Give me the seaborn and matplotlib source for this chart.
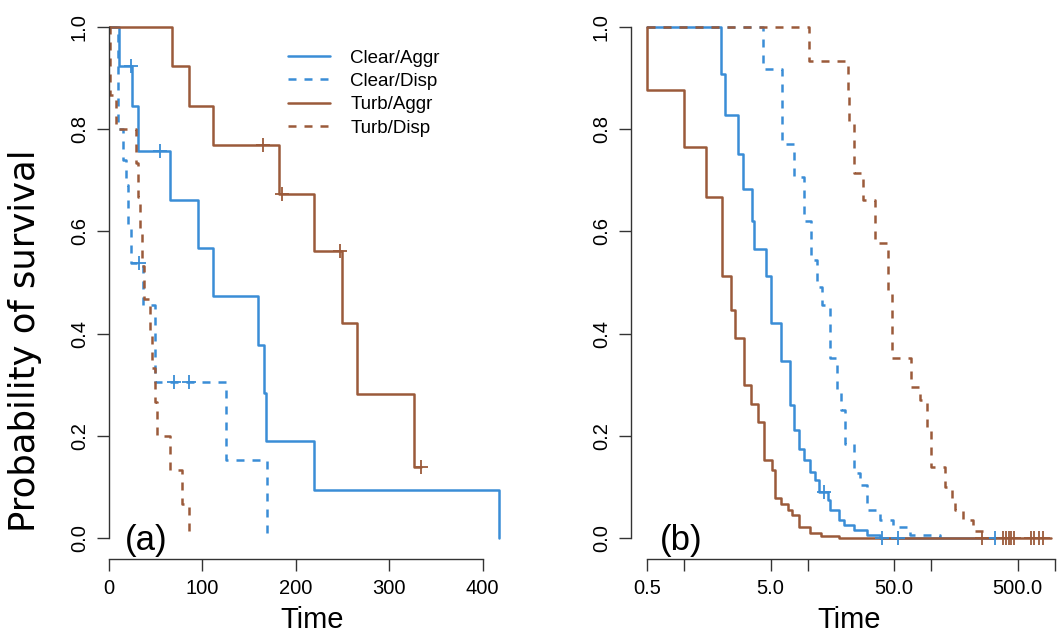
import matplotlib.pyplot as plt
import numpy as np
import pandas as pd
import seaborn as sns

groups = ["Clear/Aggr", "Clear/Disp", "Turb/Aggr", "Turb/Disp"]
colors = ["#3a8dd6", "#3a8dd6", "#9b5a3a", "#9b5a3a"]
dashed = [False, True, False, True]

# panel (a): Kaplan-Meier steps (time, survival) and censoring times
a_clear_aggr_time = [0, 10.7, 25, 31.4, 65, 95, 111.8, 159, 166, 168, 219.7, 418]
a_clear_aggr_surv = [1, 0.923, 0.846, 0.757, 0.662, 0.567, 0.473, 0.378, 0.284, 0.189, 0.095, 0.0]
a_clear_aggr_cens = [23.6, 55]

a_clear_disp_time = [0, 9.5, 15, 18, 20.5, 23.5, 36, 49, 125, 169]
a_clear_disp_surv = [1, 0.80, 0.74, 0.69, 0.615, 0.538, 0.457, 0.306, 0.153, 0.0]
a_clear_disp_cens = [32, 70, 86]

a_turb_aggr_time = [0, 67, 85.7, 111.8, 182.5, 219, 250, 266, 327, 334]
a_turb_aggr_surv = [1, 0.923, 0.846, 0.769, 0.673, 0.561, 0.421, 0.281, 0.140, 0.140]
a_turb_aggr_cens = [164.4, 185, 247.6, 334]

a_turb_disp_time = [0, 1, 8, 29, 31, 33, 35, 38, 44, 46, 49, 51, 65, 78, 86]
a_turb_disp_surv = [1, 0.867, 0.80, 0.733, 0.667, 0.60, 0.533, 0.467, 0.40, 0.333, 0.267, 0.20, 0.133, 0.067, 0.0]
a_turb_disp_cens = []

# panel (b)
b_clear_aggr_time = [0.5, 1.98, 2.14, 2.74, 2.99, 3.55, 3.67, 4.56, 5.0, 6.02, 7.11, 7.7, 8.46,
                     9.28, 10.5, 11.5, 12.3, 14.5, 15.2, 17.8, 19.5, 23.5, 30.1, 38.5, 330]
b_clear_aggr_surv = [1, 0.909, 0.828, 0.751, 0.683, 0.621, 0.565, 0.513, 0.42, 0.346, 0.26, 0.211, 0.175,
                     0.153, 0.13, 0.113, 0.091, 0.075, 0.055, 0.035, 0.026, 0.016, 0.006, 0.0, 0.0]
b_clear_aggr_cens = [13.5, 39.8, 54, 327]

b_clear_disp_time = [0.5, 4.37, 6.13, 7.7, 9.28, 10.6, 11.9, 13.1, 15.2, 17.3, 18.6, 20.1, 23.5,
                     26.6, 30.1, 38.5, 49.3, 67.3, 117]
b_clear_disp_surv = [1, 0.918, 0.771, 0.707, 0.62, 0.544, 0.492, 0.456, 0.352, 0.29, 0.25, 0.185, 0.127,
                     0.104, 0.055, 0.035, 0.021, 0.006, 0.0]
b_clear_disp_cens = []

b_turb_aggr_time = [0.5, 0.5, 1.0, 1.51, 2.01, 2.38, 2.56, 3.05, 3.49, 3.95, 4.42, 5.15, 5.42, 6.1,
                    6.9, 7.48, 8.46, 10.5, 12.7, 17.8, 930]
b_turb_aggr_surv = [1, 0.877, 0.766, 0.668, 0.513, 0.446, 0.391, 0.30, 0.262, 0.228, 0.153, 0.133, 0.078,
                    0.067, 0.055, 0.045, 0.022, 0.009, 0.004, 0.0, 0.0]
b_turb_aggr_cens = [259, 380, 404, 425, 446, 466, 644, 685, 744, 803]

b_turb_disp_time = [0.5, 10.3, 21.2, 21.5, 23.5, 27.9, 34.7, 44.5, 47.9, 68.2, 81, 92, 100, 129,
                    146, 155, 181, 218, 270]
b_turb_disp_surv = [1, 0.933, 0.87, 0.81, 0.714, 0.661, 0.577, 0.48, 0.352, 0.296, 0.27, 0.215, 0.14,
                    0.10, 0.073, 0.055, 0.035, 0.014, 0.0]
b_turb_disp_cens = []

y_ticks = [0.0, 0.2, 0.4, 0.6, 0.8, 1.0]
a_x_ticks = [0, 100, 200, 300, 400]
b_x_ticks = [0.5, 1, 5, 10, 50, 100, 500, 1000]
b_x_labels = ["0.5", "", "5.0", "", "50.0", "", "500.0", ""]

panel_a = [
    (a_clear_aggr_time, a_clear_aggr_surv, a_clear_aggr_cens),
    (a_clear_disp_time, a_clear_disp_surv, a_clear_disp_cens),
    (a_turb_aggr_time, a_turb_aggr_surv, a_turb_aggr_cens),
    (a_turb_disp_time, a_turb_disp_surv, a_turb_disp_cens),
]
panel_b = [
    (b_clear_aggr_time, b_clear_aggr_surv, b_clear_aggr_cens),
    (b_clear_disp_time, b_clear_disp_surv, b_clear_disp_cens),
    (b_turb_aggr_time, b_turb_aggr_surv, b_turb_aggr_cens),
    (b_turb_disp_time, b_turb_disp_surv, b_turb_disp_cens),
]

sns.set_style("ticks")
plt.rcParams["font.family"] = ["Liberation Sans", "DejaVu Sans"]
plt.rcParams["text.color"] = "black"
plt.rcParams["axes.labelcolor"] = "black"

W, H = 1059, 643
fig = plt.figure(figsize=(W / 100, H / 100), dpi=100)
ax_a = fig.add_axes([109 / W, 1 - 558.5 / H, 406 / W, 551.9 / H])
ax_b = fig.add_axes([631 / W, 1 - 558.5 / H, 436 / W, 551.9 / H])


def draw_panel(ax, panel):
    for i, (t, s, cens) in enumerate(panel):
        df = pd.DataFrame({"Time": t, "Survival": s})
        ls = (0, (3.2, 3.2)) if dashed[i] else "-"
        sns.lineplot(
            x="Time",
            y="Survival",
            data=df,
            estimator=None,
            sort=False,
            drawstyle="steps-post",
            color=colors[i],
            linewidth=1.8,
            linestyle=ls,
            label=groups[i],
            ax=ax,
        )
        if cens:
            # censor marks sit on the curve at their time
            idx = np.searchsorted(t, cens, side="right") - 1
            sns.scatterplot(
                x=cens,
                y=np.array(s)[idx],
                marker="+",
                s=110,
                color=colors[i],
                linewidth=1.3,
                zorder=4,
                legend=False,
                ax=ax,
            )


draw_panel(ax_a, panel_a)
draw_panel(ax_b, panel_b)

for ax in (ax_a, ax_b):
    ax.set_ylim(-0.04, 1.04)
    ax.set_yticks(y_ticks)
    ax.set_yticklabels([f"{v:.1f}" for v in y_ticks], rotation=90, va="center")
    ax.spines["top"].set_visible(False)
    ax.spines["right"].set_visible(False)
    ax.spines["left"].set_bounds(0, 1)
    for sp in ("left", "bottom"):
        ax.spines[sp].set_color("#333333")
        ax.spines[sp].set_linewidth(1.0)
    ax.tick_params(length=8.5, width=1.0, color="#333333", labelsize=14.5, pad=6,
                   labelcolor="black")
    ax.set_xlabel("Time", fontsize=21, labelpad=6, color="black")
    ax.set_ylabel("")

ax_a.set_xlim(0, 434.7)
ax_a.set_xticks(a_x_ticks)
ax_a.spines["bottom"].set_bounds(0, 400)

ax_b.set_xscale("log")
ax_b.set_xlim(0.37, 1256)
ax_b.set_xticks(b_x_ticks)
ax_b.set_xticklabels(b_x_labels)
ax_b.xaxis.set_minor_locator(plt.NullLocator())
ax_b.spines["bottom"].set_bounds(0.5, 1000)

handles, labels = ax_a.get_legend_handles_labels()
ax_a.legend(
    handles=handles[:4],
    labels=labels[:4],
    loc="upper left",
    bbox_to_anchor=(280.8 / W, 1 - 42 / H),
    bbox_transform=fig.transFigure,
    borderaxespad=0,
    frameon=False,
    fontsize=13.5,
    handlelength=2.2,
    handletextpad=1.1,
    labelspacing=0.33,
    labelcolor="black",
)
ax_b.get_legend().remove()

ax_a.text(0.039, 0.0154, "(a)", transform=ax_a.transAxes, fontsize=25, va="baseline",
          color="black")
ax_b.text(0.0665, 0.0154, "(b)", transform=ax_b.transAxes, fontsize=25, va="baseline",
          color="black")

fig.text(25 / W, 1 - 341 / H, "Probability of survival", rotation=90, ha="center",
         va="center", fontsize=25.5, family="DejaVu Sans", color="black")

plt.savefig("out.png", dpi=100)
